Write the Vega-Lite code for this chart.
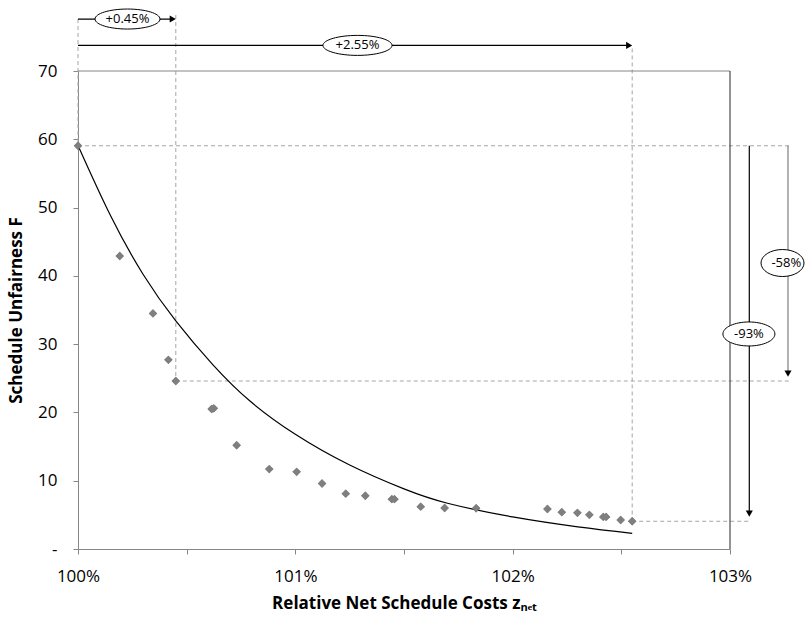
{
  "$schema": "https://vega.github.io/schema/vega-lite/v6.json",
  "width": 652,
  "height": 478,
  "autosize": {"type": "none"},
  "padding": {"left": 78, "top": 71, "right": 76, "bottom": 70},
  "background": "white",
  "config": {
    "view": {"stroke": null},
    "font": "Open Sans",
    "axis": {
      "grid": false,
      "domainColor": "#868686",
      "tickColor": "#868686",
      "tickSize": 5,
      "labelFont": "Open Sans",
      "labelFontSize": 17,
      "labelColor": "#000000",
      "labelFlush": false,
      "titleFont": "Open Sans",
      "titleFontSize": 17,
      "titleFontWeight": "bold",
      "titleColor": "#000000"
    }
  },
  "resolve": {"scale": {"shape": "independent", "color": "independent"}},
  "datasets": {
    "pts": [
      {"x": 100.0, "y": 59.05},
      {"x": 100.192, "y": 42.9},
      {"x": 100.345, "y": 34.5},
      {"x": 100.416, "y": 27.7},
      {"x": 100.45, "y": 24.6},
      {"x": 100.615, "y": 20.5},
      {"x": 100.625, "y": 20.6},
      {"x": 100.73, "y": 15.2},
      {"x": 100.88, "y": 11.7},
      {"x": 101.006, "y": 11.3},
      {"x": 101.123, "y": 9.6},
      {"x": 101.232, "y": 8.1},
      {"x": 101.322, "y": 7.8},
      {"x": 101.444, "y": 7.3},
      {"x": 101.456, "y": 7.3},
      {"x": 101.577, "y": 6.2},
      {"x": 101.687, "y": 6.0},
      {"x": 101.832, "y": 5.96},
      {"x": 102.16, "y": 5.86},
      {"x": 102.226, "y": 5.4},
      {"x": 102.298, "y": 5.3},
      {"x": 102.353, "y": 5.0},
      {"x": 102.417, "y": 4.7},
      {"x": 102.43, "y": 4.7},
      {"x": 102.497, "y": 4.25},
      {"x": 102.55, "y": 4.06}
    ],
    "fit": [
      {"x": 100.0, "y": 59.1},
      {"x": 100.15, "y": 48.8},
      {"x": 100.3, "y": 40.2},
      {"x": 100.45, "y": 33.4},
      {"x": 100.62, "y": 27.0},
      {"x": 100.79, "y": 21.7},
      {"x": 101.0, "y": 16.8},
      {"x": 101.25, "y": 12.3},
      {"x": 101.5, "y": 8.8},
      {"x": 101.7, "y": 6.7},
      {"x": 102.0, "y": 4.7},
      {"x": 102.3, "y": 3.25},
      {"x": 102.55, "y": 2.3}
    ],
    "dash": [
      {"x": 100.0, "x2": 100.0, "y": 77.61, "y2": 59.05},
      {"x": 100.45, "x2": 100.45, "y": 78.2, "y2": 24.6},
      {"x": 102.55, "x2": 102.55, "y": 73.3, "y2": 4.06},
      {"x": 100.0, "x2": 103.276, "y": 59.05, "y2": 59.05},
      {"x": 100.45, "x2": 103.276, "y": 24.6, "y2": 24.6},
      {"x": 102.55, "x2": 103.092, "y": 4.06, "y2": 4.06}
    ],
    "arrows": [
      {"arrow": "+0.45%", "x": 100.0, "x2": 100.436, "y": 77.61, "y2": 77.61},
      {"arrow": "+2.55%", "x": 100.0, "x2": 102.536, "y": 73.75, "y2": 73.75},
      {"arrow": "-93%", "x": 103.0888, "x2": 103.0888, "y": 59.05, "y2": 5.18},
      {"arrow": "-58%", "x": 103.2668, "x2": 103.2668, "y": 59.05, "y2": 25.68}
    ],
    "heads": [
      {"dir": "right", "x": 100.436, "y": 77.61},
      {"dir": "right", "x": 102.536, "y": 73.75},
      {"dir": "down", "x": 103.0888, "y": 5.18},
      {"dir": "down", "x": 103.2668, "y": 25.68}
    ],
    "labels": [
      {"label": "+0.45%", "x": 100.2278, "y": 77.61, "tx": 100.2278, "ty": 77.61},
      {"label": "+2.55%", "x": 101.286, "y": 73.75, "tx": 101.286, "ty": 73.75},
      {"label": "-58%", "x": 103.2416, "y": 41.88, "tx": 103.259, "ty": 41.88},
      {"label": "-93%", "x": 103.087, "y": 31.49, "tx": 103.087, "ty": 31.49}
    ]
  },
  "layer": [
    {
      "data": {"name": "pts"},
      "mark": {"type": "point", "shape": "diamond", "filled": true, "color": "#7f7f7f", "opacity": 1, "size": 70},
      "encoding": {
        "x": {
          "field": "x", "type": "quantitative",
          "scale": {"domain": [100, 103], "nice": false, "zero": false},
          "axis": {
            "title": "Relative Net Schedule Costs zₙₑₜ",
            "values": [100, 100.5, 101, 101.5, 102, 102.5, 103],
            "labelExpr": "datum.value % 1 == 0 ? datum.value + '%' : ''",
            "labelOverlap": false,
            "labelFlush": false,
            "labelPadding": 14,
            "titlePadding": 11
          }
        },
        "y": {
          "field": "y", "type": "quantitative",
          "scale": {"domain": [0, 70], "nice": false, "zero": false},
          "axis": {
            "title": "Schedule Unfairness F",
            "values": [0, 10, 20, 30, 40, 50, 60, 70],
            "labelExpr": "datum.value == 0 ? '-' : datum.label",
            "labelPadding": 16,
            "titlePadding": 12
          }
        }
      }
    },
    {
      "data": {"name": "dash"},
      "mark": {"type": "rule", "color": "#a6a6a6", "strokeWidth": 1, "strokeDash": [4, 3]},
      "encoding": {
        "x": {"field": "x", "type": "quantitative", "scale": {"domain": [100, 103], "nice": false, "zero": false}},
        "x2": {"field": "x2"},
        "y": {"field": "y", "type": "quantitative", "scale": {"domain": [0, 70], "nice": false, "zero": false}},
        "y2": {"field": "y2"}
      }
    },
    {
      "data": {"values": [{}]},
      "mark": {"type": "rule", "color": "#868686", "strokeWidth": 1},
      "encoding": {
        "x": {"datum": 100, "type": "quantitative", "scale": {"domain": [100, 103], "nice": false, "zero": false}},
        "x2": {"datum": 103},
        "y": {"datum": 70, "type": "quantitative", "scale": {"domain": [0, 70], "nice": false, "zero": false}}
      }
    },
    {
      "data": {"values": [{}]},
      "mark": {"type": "rule", "color": "#262626", "strokeWidth": 1},
      "encoding": {
        "x": {"datum": 103, "type": "quantitative", "scale": {"domain": [100, 103], "nice": false, "zero": false}},
        "y": {"datum": 0, "type": "quantitative", "scale": {"domain": [0, 70], "nice": false, "zero": false}},
        "y2": {"datum": 70}
      }
    },
    {
      "data": {"name": "fit"},
      "mark": {"type": "line", "color": "#000000", "strokeWidth": 1.2, "interpolate": "natural"},
      "encoding": {
        "x": {"field": "x", "type": "quantitative", "scale": {"domain": [100, 103], "nice": false, "zero": false}},
        "y": {"field": "y", "type": "quantitative", "scale": {"domain": [0, 70], "nice": false, "zero": false}}
      }
    },
    {
      "data": {"name": "pts"},
      "mark": {"type": "point", "shape": "diamond", "filled": true, "color": "#7f7f7f", "opacity": 1, "size": 70},
      "encoding": {
        "x": {"field": "x", "type": "quantitative", "scale": {"domain": [100, 103], "nice": false, "zero": false}},
        "y": {"field": "y", "type": "quantitative", "scale": {"domain": [0, 70], "nice": false, "zero": false}}
      }
    },
    {
      "data": {"name": "arrows"},
      "mark": {"type": "rule", "strokeWidth": 1.2},
      "encoding": {
        "x": {"field": "x", "type": "quantitative", "scale": {"domain": [100, 103], "nice": false, "zero": false}},
        "x2": {"field": "x2"},
        "y": {"field": "y", "type": "quantitative", "scale": {"domain": [0, 70], "nice": false, "zero": false}},
        "y2": {"field": "y2"},
        "color": {"field": "arrow", "type": "nominal", "scale": {"domain": ["+0.45%", "+2.55%", "-93%", "-58%"], "range": ["#000000", "#000000", "#000000", "#7f7f7f"]}, "legend": null}
      }
    },
    {
      "data": {"name": "heads"},
      "mark": {"type": "point", "filled": true, "color": "#000000", "opacity": 1, "size": 50},
      "encoding": {
        "x": {"field": "x", "type": "quantitative", "scale": {"domain": [100, 103], "nice": false, "zero": false}},
        "y": {"field": "y", "type": "quantitative", "scale": {"domain": [0, 70], "nice": false, "zero": false}},
        "shape": {"field": "dir", "type": "nominal", "scale": {"domain": ["right", "down"], "range": ["triangle-right", "triangle-down"]}, "legend": null}
      }
    },
    {
      "data": {"name": "labels"},
      "mark": {"type": "point", "filled": true, "fill": "#ffffff", "stroke": "#000000", "strokeWidth": 1, "opacity": 1, "size": 4},
      "encoding": {
        "x": {"field": "x", "type": "quantitative", "scale": {"domain": [100, 103], "nice": false, "zero": false}},
        "y": {"field": "y", "type": "quantitative", "scale": {"domain": [0, 70], "nice": false, "zero": false}},
        "shape": {
          "field": "label", "type": "nominal",
          "scale": {
            "domain": ["+0.45%", "+2.55%", "-58%", "-93%"],
            "range": [
              "M -32.5 0 C -32.5 -5.52 -17.95 -10 0 -10 C 17.95 -10 32.5 -5.52 32.5 0 C 32.5 5.52 17.95 10 0 10 C -17.95 10 -32.5 5.52 -32.5 0 Z",
              "M -34.5 0 C -34.5 -5.52 -19.05 -10 0 -10 C 19.05 -10 34.5 -5.52 34.5 0 C 34.5 5.52 19.05 10 0 10 C -19.05 10 -34.5 5.52 -34.5 0 Z",
              "M -21.5 0 C -21.5 -7.46 -11.87 -13.5 0 -13.5 C 11.87 -13.5 21.5 -7.46 21.5 0 C 21.5 7.46 11.87 13.5 0 13.5 C -11.87 13.5 -21.5 7.46 -21.5 0 Z",
              "M -26 0 C -26 -6.63 -14.36 -12 0 -12 C 14.36 -12 26 -6.63 26 0 C 26 6.63 14.36 12 0 12 C -14.36 12 -26 6.63 -26 0 Z"
            ]
          },
          "legend": null
        }
      }
    },
    {
      "data": {"name": "labels"},
      "mark": {"type": "text", "font": "Open Sans", "fontSize": 13, "color": "#000000", "align": "center", "baseline": "middle"},
      "encoding": {
        "x": {"field": "tx", "type": "quantitative", "scale": {"domain": [100, 103], "nice": false, "zero": false}},
        "y": {"field": "ty", "type": "quantitative", "scale": {"domain": [0, 70], "nice": false, "zero": false}},
        "text": {"field": "label"}
      }
    }
  ]
}
